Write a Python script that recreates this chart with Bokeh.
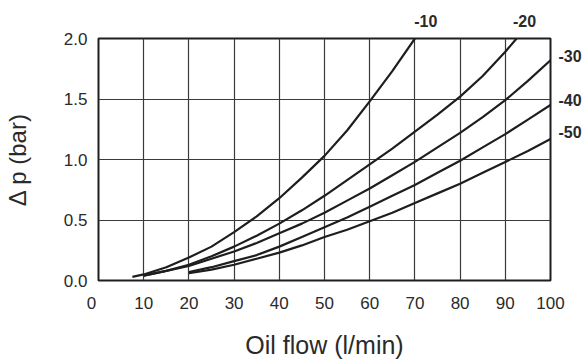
from bokeh.plotting import figure
from bokeh.models import FixedTicker, LinearAxis, Range1d
from bokeh.embed import file_html
from bokeh.resources import INLINE

# ---- data ----
flow_10 = [7.5, 10, 15, 20, 25, 30, 35, 40, 45, 50, 55, 60, 65, 70]
dp_10 = [0.03, 0.05, 0.11, 0.19, 0.28, 0.40, 0.53, 0.68, 0.85, 1.03, 1.24, 1.48, 1.73, 2.0]

flow_20 = [10, 15, 20, 25, 30, 35, 40, 45, 50, 55, 60, 65, 70, 75, 80, 85, 90, 92.5]
dp_20 = [0.04, 0.08, 0.13, 0.20, 0.28, 0.37, 0.47, 0.58, 0.70, 0.83, 0.96, 1.09, 1.23, 1.37, 1.52, 1.69, 1.89, 2.0]

flow_30 = [10, 15, 20, 25, 30, 35, 40, 45, 50, 55, 60, 65, 70, 75, 80, 85, 90, 95, 100]
dp_30 = [0.04, 0.08, 0.12, 0.18, 0.24, 0.31, 0.39, 0.47, 0.56, 0.66, 0.76, 0.87, 0.98, 1.10, 1.22, 1.35, 1.49, 1.65, 1.82]

flow_40 = [20, 25, 30, 35, 40, 45, 50, 55, 60, 65, 70, 75, 80, 85, 90, 95, 100]
dp_40 = [0.07, 0.11, 0.16, 0.21, 0.28, 0.36, 0.44, 0.52, 0.61, 0.70, 0.79, 0.89, 0.99, 1.10, 1.21, 1.33, 1.45]

flow_50 = [20, 25, 30, 35, 40, 45, 50, 55, 60, 65, 70, 75, 80, 85, 90, 95, 100]
dp_50 = [0.06, 0.09, 0.13, 0.18, 0.23, 0.29, 0.36, 0.42, 0.49, 0.56, 0.64, 0.72, 0.80, 0.89, 0.98, 1.07, 1.17]

curve_labels = ["-10", "-20", "-30", "-40", "-50"]

x_ticks = [0, 10, 20, 30, 40, 50, 60, 70, 80, 90, 100]
x_tick_labels = ["0", "10", "20", "30", "40", "50", "60", "70", "80", "90", "100"]
y_ticks = [0.0, 0.5, 1.0, 1.5, 2.0]
y_tick_labels = ["0.0", "0.5", "1.0", "1.5", "2.0"]

x_title = "Oil flow (l/min)"
y_title = "\u0394 p (bar)"

# ---- layout (pixels) ----
W, H = 584, 363
LEFT, RIGHT, TOP, BOTTOM = 96, 550, 38, 280
x0, x1 = x_ticks[0], x_ticks[-1]
y0, y1 = y_ticks[0], y_ticks[-1]
px_x = (RIGHT - LEFT) / (x1 - x0)
px_y = (BOTTOM - TOP) / (y1 - y0)

FONT = "Liberation Sans"
TXT = "#2a2a2a"
INK = "#1e1e1e"
GRID = "#3a3a3a"

p = figure(width=W, height=H, output_backend="svg", toolbar_location=None,
           x_range=Range1d(x0, x1), y_range=Range1d(y0, y1),
           min_border_left=LEFT, min_border_right=W - RIGHT,
           min_border_top=TOP, min_border_bottom=H - BOTTOM)
p.background_fill_color = "white"
p.border_fill_color = "white"
p.outline_line_color = INK
p.outline_line_width = 2


def plain(ax):
    ax.axis_line_color = None
    ax.major_tick_line_color = None
    ax.minor_tick_line_color = None
    ax.major_tick_out = 0
    ax.major_tick_in = 0
    ax.major_label_text_font = FONT
    ax.major_label_text_color = TXT
    ax.axis_label_text_font = FONT
    ax.axis_label_text_font_style = "normal"
    ax.axis_label_text_color = TXT


for ax in (p.xaxis[0], p.yaxis[0]):
    plain(ax)
    ax.major_label_text_font_size = "17px"
p.xaxis.axis_label_text_font_size = "25px"
p.yaxis.axis_label_text_font_size = "24px"

xo = {t: l for t, l in zip(x_ticks, x_tick_labels)}
xo[x_ticks[0]] = x_tick_labels[0] + "\u00a0\u00a0\u00a0"
p.xaxis.ticker = FixedTicker(ticks=x_ticks)
p.xaxis.major_label_overrides = xo
p.xaxis.major_label_standoff = 13
p.xaxis.axis_label = x_title
p.xaxis.axis_label_standoff = 15

p.yaxis.ticker = FixedTicker(ticks=y_ticks)
p.yaxis.major_label_overrides = {t: l for t, l in zip(y_ticks, y_tick_labels)}
p.yaxis.major_label_standoff = 11
p.yaxis.axis_label = y_title
p.yaxis.axis_label_standoff = 30

p.xgrid.ticker = FixedTicker(ticks=x_ticks)
p.ygrid.ticker = FixedTicker(ticks=y_ticks)
for g in (p.xgrid[0], p.ygrid[0]):
    g.grid_line_color = GRID
    g.grid_line_width = 1.2
    g.grid_line_alpha = 1.0

series = [(flow_10, dp_10), (flow_20, dp_20), (flow_30, dp_30), (flow_40, dp_40), (flow_50, dp_50)]
for fx, fy in series:
    p.line(fx, fy, line_color=INK, line_width=2.2)

# curve labels: ends that reach the top edge are named above the box,
# ends that reach the right edge are named to its right
top_offsets = {0: 11, 1: 8}        # px to the right of the curve end
right_offsets = {2: 4, 3: 5, 4: 7}  # px above the curve end

top_ticks, top_over = [], {}
for i, dx in top_offsets.items():
    t = round(series[i][0][-1] + dx / px_x, 3)
    top_ticks.append(t)
    top_over[t] = curve_labels[i]
right_ticks, right_over = [], {}
for i, dy in right_offsets.items():
    t = round(series[i][1][-1] + dy / px_y, 3)
    right_ticks.append(t)
    right_over[t] = curve_labels[i]

ax_top = LinearAxis(ticker=FixedTicker(ticks=top_ticks), major_label_overrides=top_over)
plain(ax_top)
ax_top.major_label_text_font_size = "16px"
ax_top.major_label_text_font_style = "bold"
ax_top.major_label_standoff = 12
p.add_layout(ax_top, "above")

ax_right = LinearAxis(ticker=FixedTicker(ticks=right_ticks), major_label_overrides=right_over)
plain(ax_right)
ax_right.major_label_text_font_size = "16px"
ax_right.major_label_text_font_style = "bold"
ax_right.major_label_standoff = 8
p.add_layout(ax_right, "right")

open("out.html", "w").write(file_html(p, INLINE))
